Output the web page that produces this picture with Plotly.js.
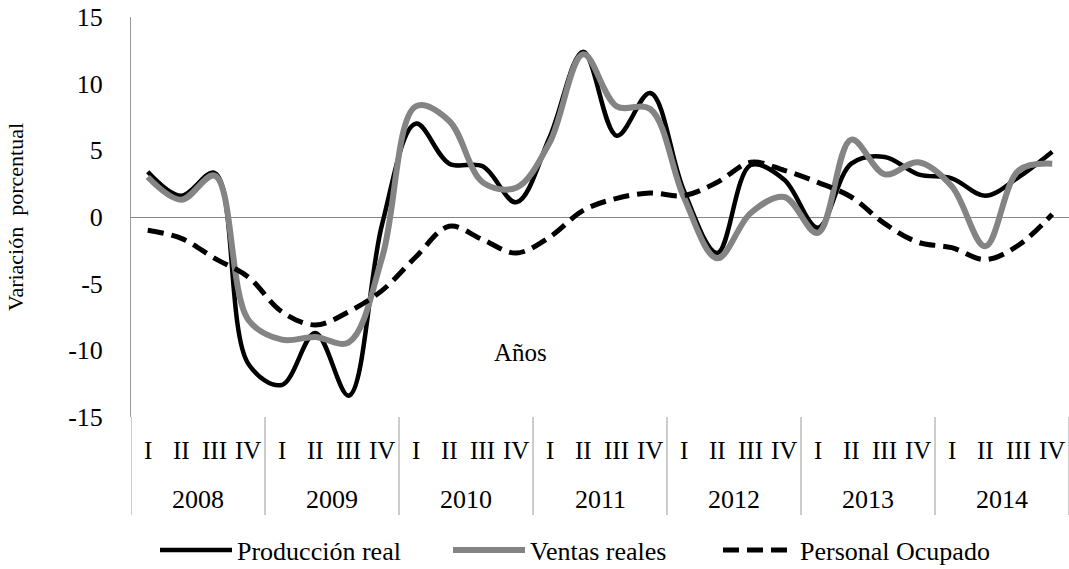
<!DOCTYPE html>
<html>
<head>
<meta charset="utf-8">
<script src="https://cdn.plot.ly/plotly-3.0.1.min.js"></script>
<style>html,body{margin:0;padding:0;background:#fff;}#chart{width:1069px;height:569px;}</style>
</head>
<body>
<div id="chart"></div>
<script>
const years = ['2008','2009','2010','2011','2012','2013','2014'];
const quarters = ['I','II','III','IV'];
const produccionReal = [3.4, 1.6, 3.3, -11.0, -12.6, -8.7, -13.4, -0.5, 7.0, 4.0, 3.8, 1.1, 6.0, 12.4, 6.1, 9.3, 2.0, -2.7, 3.9, 2.8, -0.8, 4.0, 4.5, 3.2, 2.9, 1.6, 3.0, 4.9];
const ventasReales = [3.0, 1.3, 3.1, -7.7, -9.2, -9.0, -9.4, -3.0, 8.3, 7.2, 2.6, 2.2, 5.6, 12.2, 8.3, 8.1, 1.5, -3.1, 0.3, 1.5, -1.2, 5.8, 3.2, 4.1, 2.3, -2.2, 3.5, 4.0];
const personalOcupado = [-1.0, -1.6, -3.1, -4.5, -7.1, -8.1, -7.1, -5.5, -3.0, -0.7, -1.7, -2.7, -1.5, 0.5, 1.4, 1.8, 1.6, 2.6, 4.1, 3.5, 2.6, 1.5, -0.5, -1.9, -2.3, -3.2, -2.1, 0.2];
const yTicks = [-15, -10, -5, 0, 5, 10, 15];

const FONT = 'Liberation Serif';
const xIdx = [];
years.forEach((y, yi) => quarters.forEach((q, qi) => xIdx.push(yi * quarters.length + qi)));

const traces = [
  {x: xIdx, y: produccionReal, name: 'Producción real', mode: 'lines',
   line: {color: '#000000', width: 4.5, shape: 'spline', smoothing: 1}, legendwidth: 206},
  {x: xIdx, y: ventasReales, name: 'Ventas reales', mode: 'lines',
   line: {color: '#848484', width: 6, shape: 'spline', smoothing: 1}, legendwidth: 183},
  {x: xIdx, y: personalOcupado, name: 'Personal Ocupado', mode: 'lines',
   line: {color: '#000000', width: 5, dash: '16px,8px', shape: 'spline', smoothing: 1}}
];

const annotations = [];
const shapes = [];
xIdx.forEach((xi, i) => {
  annotations.push({x: xi, y: -0.0825, xref: 'x', yref: 'paper', text: quarters[i % quarters.length],
    showarrow: false, xanchor: 'center', yanchor: 'middle', font: {family: FONT, size: 25, color: '#000'}});
});
years.forEach((yr, yi) => {
  annotations.push({x: yi * 4 + 1.5, y: -0.205, xref: 'x', yref: 'paper', text: yr,
    showarrow: false, xanchor: 'center', yanchor: 'middle', font: {family: FONT, size: 26, color: '#000'}});
});
for (let i = 0; i <= years.length; i++) {
  shapes.push({type: 'line', xref: 'x', yref: 'paper', x0: i * 4 - 0.5, x1: i * 4 - 0.5, y0: 0, y1: -0.245,
    line: {color: '#9a9a9a', width: 1}});
}
annotations.push({x: 0.415, y: 0.1625, xref: 'paper', yref: 'paper', text: 'Años', showarrow: false,
  xanchor: 'center', yanchor: 'middle', font: {family: FONT, size: 25, color: '#000'}});

const layout = {
  width: 1069, height: 569,
  margin: {l: 131, r: 0, t: 17, b: 152, pad: 0},
  paper_bgcolor: '#ffffff', plot_bgcolor: '#ffffff',
  font: {family: FONT, size: 26, color: '#000'},
  showlegend: true,
  legend: {orientation: 'h', xref: 'container', yref: 'container', x: 0.145, xanchor: 'left',
    y: 0.0334, yanchor: 'middle', itemwidth: 72,
    font: {family: FONT, size: 26, color: '#000'}, bgcolor: 'rgba(0,0,0,0)', tracegroupgap: 0},
  xaxis: {range: [-0.5, 27.5], showgrid: false, zeroline: false, showline: false,
    showticklabels: false, ticks: '', fixedrange: true},
  yaxis: {range: [-15, 15], tickvals: yTicks, ticktext: yTicks.map(String), showgrid: false,
    zeroline: true, zerolinecolor: '#868686', zerolinewidth: 1,
    showline: true, linecolor: '#9a9a9a', linewidth: 1, ticks: '', ticklabelstandoff: 22,
    tickfont: {family: FONT, size: 26, color: '#000'},
    title: {text: 'Variación  porcentual', standoff: 38, font: {family: FONT, size: 22, color: '#000'}},
    automargin: false},
  annotations: annotations,
  shapes: shapes
};

Plotly.newPlot('chart', traces, layout, {displayModeBar: false, staticPlot: true});
</script>
</body>
</html>
